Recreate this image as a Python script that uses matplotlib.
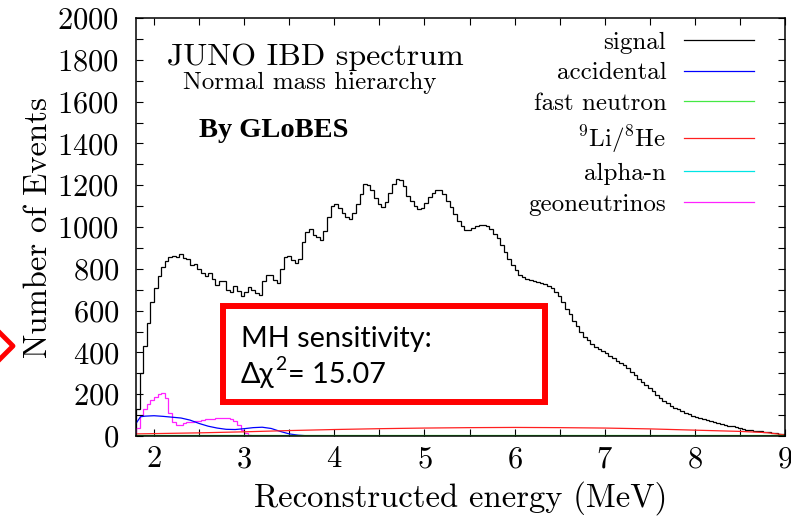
import numpy as np
import matplotlib
matplotlib.use("Agg")
import matplotlib.pyplot as plt
from matplotlib.lines import Line2D
from matplotlib.patches import Rectangle

plt.rcParams['font.family'] = 'cmr10'
plt.rcParams['mathtext.fontset'] = 'cm'
plt.rcParams['axes.formatter.use_mathtext'] = True

# energy binning of the histograms (MeV)
e_min = 1.8
bin_width = 0.04
n_bins = 180

# IBD signal, events per bin, normal hierarchy
signal = [
    130, 300, 430, 540, 640, 710, 765, 810, 835, 855,
    862, 858, 870, 852, 848, 820, 822, 800, 782, 765,
    780, 752, 722, 740, 742,
    700, 688, 720, 692, 668, 690, 714, 700, 684, 675,
    740, 768, 770, 745, 732, 800, 855, 862, 840, 828,
    848, 930, 975, 990, 960,
    950, 936, 980, 1050, 1100, 1110, 1090, 1065, 1048, 1038,
    1068, 1112, 1160, 1205, 1200, 1175, 1138, 1108, 1095, 1118,
    1165, 1205, 1230, 1225, 1195,
    1150, 1125, 1100, 1088, 1092, 1115, 1145, 1165, 1178, 1176,
    1158, 1125, 1095, 1062, 1030, 1004, 988, 985, 995, 1003,
    1008, 1010, 1003, 992, 968,
    945, 912, 878, 848, 818, 792, 772, 760, 750, 745,
    740, 736, 732, 725, 718, 706, 690, 672, 642, 610,
    582, 552, 525, 498, 475,
    458, 442, 428, 416, 405, 395, 384, 372, 361, 350,
    338, 325, 308, 290, 272, 256, 242, 228, 213, 198,
    183, 168, 156, 145, 136,
    128, 120, 112, 105, 98, 92, 86, 80, 75, 70,
    66, 62, 58, 54, 50, 46, 42, 38, 34, 31,
    28, 26, 24, 22, 20, 18, 15, 13, 10, 8,
]

# geoneutrinos, same binning, zero above 3.08 MeV
geo = [
    40, 100, 130, 155, 172, 188, 203, 204, 180, 110,
    68, 52, 55, 60, 65, 68, 72, 74, 76, 79,
    81, 82, 84, 85, 85, 85, 83, 70, 55, 30,
    12, 4,
]

# smooth background components
acc_e = [1.8, 1.85, 1.9, 2.0, 2.1, 2.2, 2.3, 2.4, 2.5, 2.6, 2.7, 2.8,
         2.9, 3.0, 3.1, 3.2, 3.3, 3.4, 3.5, 3.6, 3.7, 3.8, 9.0]
acc_n = [60, 92, 95, 97, 94, 90, 86, 76, 60, 47, 38, 32,
         31, 35, 40, 42, 36, 22, 10, 4, 1, 0, 0]

li_e = [1.8, 2.5, 3.0, 3.5, 4.0, 4.5, 5.0, 5.5, 6.0, 6.5, 7.0, 7.5, 8.0, 8.5, 8.8, 9.0]
li_n = [10, 15, 20, 26, 31, 35, 38, 40, 41, 40, 38, 34, 28, 22, 16, 5]

fn_e = [1.8, 4.0, 6.0, 8.0, 9.0]
fn_n = [3, 3, 3, 3, 3]

an_e = [1.8, 3.0, 4.0, 5.0, 6.0, 7.0, 9.0]
an_n = [2, 2, 1.5, 1, 0.5, 0.2, 0]

edges = np.round(e_min + bin_width * np.arange(n_bins + 1), 3)

c_sig = 'black'
c_acc = '#0000ff'
c_fn = '#44e844'
c_li = '#ff2020'
c_an = '#00e5e5'
c_geo = '#ff22ff'

fig = plt.figure(figsize=(7.91, 5.32), dpi=100)
ax = fig.add_axes([136 / 791, 96 / 532, 649 / 791, 418 / 532])

lw = 0.9
ax.stairs(signal, edges, color=c_sig, lw=lw)
ax.plot(acc_e, acc_n, color=c_acc, lw=lw)
ax.plot(li_e, li_n, color=c_li, lw=lw)
ax.plot(an_e, an_n, color=c_an, lw=lw)
ax.stairs(geo, edges[:len(geo) + 1], color=c_geo, lw=lw)
ax.plot(fn_e, fn_n, color=c_fn, lw=lw)

ax.set_xlim(1.8, 9.0)
ax.set_ylim(0, 2000)
ax.set_xticks(np.arange(2, 10, 1))
ax.set_xticks(np.arange(2.5, 9, 1), minor=True)
ax.set_yticks(np.arange(0, 2001, 200))
ax.set_yticks(np.arange(100, 2000, 200), minor=True)
ax.tick_params(which='both', direction='in', top=True, right=True,
               length=5, width=0.8, labelsize=22)
ax.tick_params(axis='y', pad=12)
ax.tick_params(axis='x', pad=7)
for s in ax.spines.values():
    s.set_linewidth(1.1)

ax.set_xlabel('Reconstructed energy (MeV)', fontsize=23.5, labelpad=6)
ax.set_ylabel('Number of Events', fontsize=23.5, labelpad=3)

ax.text(0.276, 0.888, 'JUNO IBD spectrum', transform=ax.transAxes,
        fontsize=23, ha='center', va='baseline')
ax.text(0.267, 0.829, 'Normal mass hierarchy', transform=ax.transAxes,
        fontsize=18, ha='center', va='baseline')
ax.text(0.097, 0.715, 'By GLoBES', transform=ax.transAxes,
        fontsize=20.5, fontweight='bold', family='Liberation Serif', va='baseline')

handles = [Line2D([], [], color=c, lw=lw) for c in (c_sig, c_acc, c_fn, c_li, c_an, c_geo)]
labels = ['signal', 'accidental', 'fast neutron', r'$^{9}$Li/$^{8}$He', 'alpha-n', 'geoneutrinos']
ax.legend(handles, labels, loc='upper right', bbox_to_anchor=(0.952, 0.968),
          frameon=False, markerfirst=False, fontsize=18, handlelength=2.8,
          handletextpad=0.7, labelspacing=0.32, borderpad=0, borderaxespad=0)

# highlighted result box and pointer
fig.add_artist(Rectangle((223 / 791, 1 - 401.5 / 532), 322 / 791, 96 / 532,
                         transform=fig.transFigure, fill=False,
                         edgecolor='#ff0000', lw=4.3))
box_font = ['Lato', 'Open Sans', 'DejaVu Sans']
fig.text(241 / 791, 1 - 347 / 532, 'MH sensitivity:', fontsize=20.8,
         family=box_font, va='baseline')
t1 = fig.text(241 / 791, 1 - 383 / 532, 'Δχ', fontsize=20.8,
              family=box_font, va='baseline')
fig.canvas.draw()
x_sup = t1.get_window_extent().x1 / fig.bbox.width
t2 = fig.text(x_sup + 1 / 791, 1 - 370 / 532, '2', fontsize=14,
              family=box_font, va='baseline')
fig.canvas.draw()
x_rest = t2.get_window_extent().x1 / fig.bbox.width
fig.text(x_rest + 1 / 791, 1 - 383 / 532, '= 15.07', fontsize=20.8,
         family=box_font, va='baseline')
fig.add_artist(Line2D([0, 13 / 791, 0], [1 - 333 / 532, 1 - 346 / 532, 1 - 359 / 532],
                      transform=fig.transFigure, color='#ff0000', lw=3.5))

fig.savefig('out.png', dpi=100)
